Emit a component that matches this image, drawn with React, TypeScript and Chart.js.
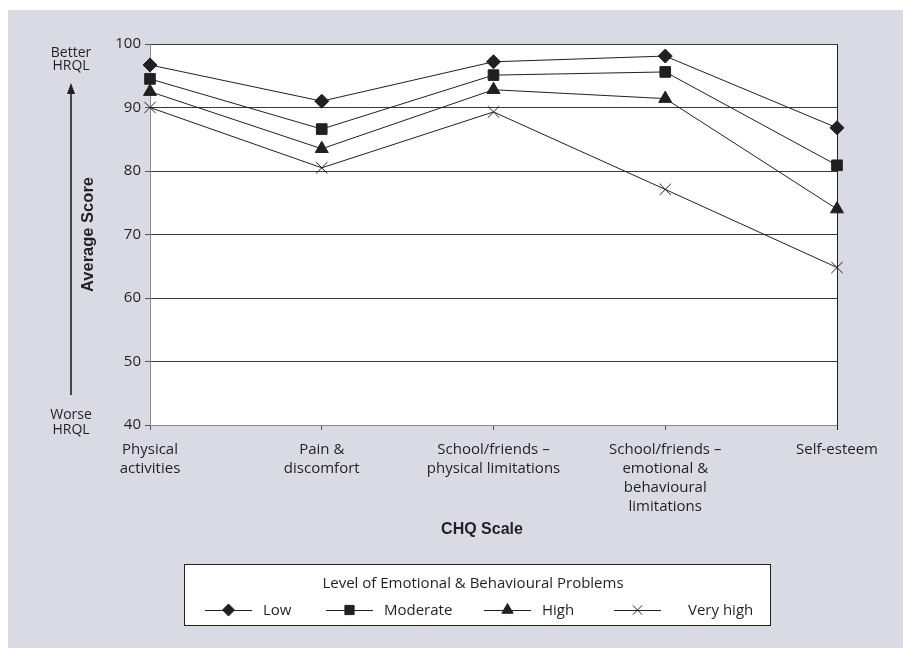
import React, { useEffect, useRef } from "react";
import { Chart, registerables } from "chart.js";
import { drawPoint } from "chart.js/helpers";

Chart.register(...registerables);

// ---------------- data ----------------
const categories: string[][] = [
  ["Physical", "activities"],
  ["Pain &", "discomfort"],
  ["School/friends –", "physical limitations"],
  ["School/friends –", "emotional &", "behavioural", "limitations"],
  ["Self-esteem"],
];
const seriesNames = ["Low", "Moderate", "High", "Very high"];
const lowScores = [96.7, 91.0, 97.2, 98.1, 86.8];
const moderateScores = [94.5, 86.6, 95.1, 95.6, 80.9];
const highScores = [92.5, 83.5, 92.8, 91.4, 74.0];
const veryHighScores = [90.0, 80.5, 89.3, 77.1, 64.8];
const yMin = 40;
const yMax = 100;
const yStep = 10;
const xAxisTitle = "CHQ Scale";
const yAxisTitle = "Average Score";
const legendTitle = "Level of Emotional & Behavioural Problems";
const betterLabel = ["Better", "HRQL"];
const worseLabel = ["Worse", "HRQL"];

// ---------------- styles ----------------
const INK = "#231f20";
const BG = "#dadae4";
const AXIS_GRAY = "#8a8a8a";
const SANS = "'Open Sans', 'Noto Sans', sans-serif";
const BOLD_SANS = "'Liberation Sans', Arial, sans-serif";
const markerStyles = ["rectRot", "rect", "triangle", "crossRot"];
const markerRadii = [7, 7.5, 7.5, 8];
const legendRadii = [6, 6.5, 6.5, 6.5];

const decorPlugin = {
  id: "decor",
  beforeDraw(chart: any) {
    const { ctx, chartArea: a, width, height } = chart;
    ctx.save();
    ctx.fillStyle = BG;
    ctx.fillRect(0, 0, width, height);
    ctx.fillStyle = "#ffffff";
    ctx.fillRect(a.left, a.top, a.right - a.left, a.bottom - a.top);
    ctx.restore();
  },
  afterDraw(chart: any) {
    const { ctx, chartArea: a } = chart;
    ctx.save();
    // right border of plot
    const rx = Math.round(a.right) + 0.5;
    ctx.strokeStyle = INK;
    ctx.lineWidth = 1;
    ctx.beginPath();
    ctx.moveTo(rx, a.top);
    ctx.lineTo(rx, a.bottom + 5);
    ctx.stroke();

    // x axis title
    ctx.fillStyle = INK;
    ctx.font = `bold 16px ${BOLD_SANS}`;
    ctx.textAlign = "center";
    ctx.textBaseline = "middle";
    ctx.fillText(xAxisTitle, 474, 520);

    // Better / Worse HRQL notes and arrow
    const ax = 63;
    ctx.font = `14px ${SANS}`;
    ctx.textAlign = "center";
    ctx.textBaseline = "alphabetic";
    ctx.fillText(betterLabel[0], ax, 47);
    ctx.fillText(betterLabel[1], ax, 60);
    ctx.fillText(worseLabel[0], ax, 409);
    ctx.fillText(worseLabel[1], ax, 424);
    ctx.strokeStyle = INK;
    ctx.lineWidth = 1.6;
    ctx.beginPath();
    ctx.moveTo(ax, 82);
    ctx.lineTo(ax, 385);
    ctx.stroke();
    ctx.beginPath();
    ctx.moveTo(ax, 73);
    ctx.lineTo(ax - 4, 84);
    ctx.lineTo(ax + 4, 84);
    ctx.closePath();
    ctx.fill();

    // legend box
    const bx = 176, by = 554, bw = 586, bh = 61;
    ctx.fillStyle = "#ffffff";
    ctx.fillRect(bx, by, bw, bh);
    ctx.strokeStyle = INK;
    ctx.lineWidth = 1;
    ctx.strokeRect(bx + 0.5, by + 0.5, bw, bh);
    ctx.fillStyle = INK;
    ctx.font = `15px ${SANS}`;
    ctx.textAlign = "center";
    ctx.fillText(legendTitle, bx + bw / 2 - 4, 578);

    const lineStarts = [197, 318, 476, 606];
    const textGaps = [11, 11, 11, 27];
    const lineLen = 47;
    const my = 600;
    ctx.textAlign = "left";
    chart.data.datasets.forEach((ds: any, i: number) => {
      const x0 = lineStarts[i];
      ctx.strokeStyle = INK;
      ctx.lineWidth = 1;
      ctx.beginPath();
      ctx.moveTo(x0, my + 0.5);
      ctx.lineTo(x0 + lineLen, my + 0.5);
      ctx.stroke();
      ctx.fillStyle = INK;
      drawPoint(
        ctx,
        { pointStyle: ds.pointStyle, rotation: 0, radius: legendRadii[i], borderWidth: 1 } as any,
        x0 + lineLen / 2,
        my
      );
      ctx.fillStyle = INK;
      ctx.font = `15px ${SANS}`;
      ctx.fillText(ds.label, x0 + lineLen + textGaps[i], 605);
    });
    ctx.restore();
  },
};

export default function App() {
  const ref = useRef<HTMLCanvasElement | null>(null);

  useEffect(() => {
    if (!ref.current) return;
    const series = [lowScores, moderateScores, highScores, veryHighScores];
    const chart = new Chart(ref.current, {
      type: "line",
      data: {
        labels: categories,
        datasets: series.map((data, i) => ({
          label: seriesNames[i],
          data,
          borderColor: INK,
          backgroundColor: INK,
          borderWidth: 1,
          pointStyle: markerStyles[i] as any,
          pointRadius: markerRadii[i],
          pointHoverRadius: markerRadii[i],
          pointBackgroundColor: INK,
          pointBorderColor: INK,
          pointBorderWidth: 1,
          tension: 0,
          fill: false,
          clip: false as any,
        })),
      },
      options: {
        animation: false,
        responsive: true,
        maintainAspectRatio: false,
        events: [],
        layout: { padding: { left: 0, right: 66, top: 34, bottom: 0 } },
        plugins: {
          legend: { display: false },
          tooltip: { enabled: false },
          title: { display: false },
        },
        scales: {
          x: {
            type: "category",
            offset: false,
            afterFit: (s: any) => {
              s.height = 223;
            },
            border: { display: true, color: AXIS_GRAY, width: 1 },
            grid: {
              drawOnChartArea: false,
              drawTicks: true,
              tickLength: 5,
              color: "#555",
            },
            ticks: {
              color: INK,
              font: { family: SANS, size: 15, lineHeight: 1.28 },
              padding: 10,
              maxRotation: 0,
              minRotation: 0,
              autoSkip: false,
            },
            title: { display: false, text: xAxisTitle },
          },
          y: {
            min: yMin,
            max: yMax,
            afterFit: (s: any) => {
              s.width = 142;
            },
            border: { display: true, color: AXIS_GRAY, width: 1 },
            grid: {
              drawOnChartArea: true,
              drawTicks: true,
              tickLength: 5,
              tickColor: "#555",
              color: (c: any) => (c.tick && c.tick.value === yMin ? AXIS_GRAY : "#3a3a3a"),
              lineWidth: 1,
            },
            ticks: {
              stepSize: yStep,
              color: INK,
              font: { family: SANS, size: 15 },
              padding: 4,
            },
            title: {
              display: true,
              text: yAxisTitle,
              color: INK,
              font: { family: BOLD_SANS, size: 16.5, weight: "bold", lineHeight: 1.2 },
              padding: { top: 71, bottom: 0 },
            },
          },
        },
      },
      plugins: [decorPlugin],
    });
    return () => chart.destroy();
  }, []);

  return (
    <div style={{ position: "fixed", left: 8, top: 10, width: 895, height: 638 }}>
      <canvas ref={ref} />
    </div>
  );
}
